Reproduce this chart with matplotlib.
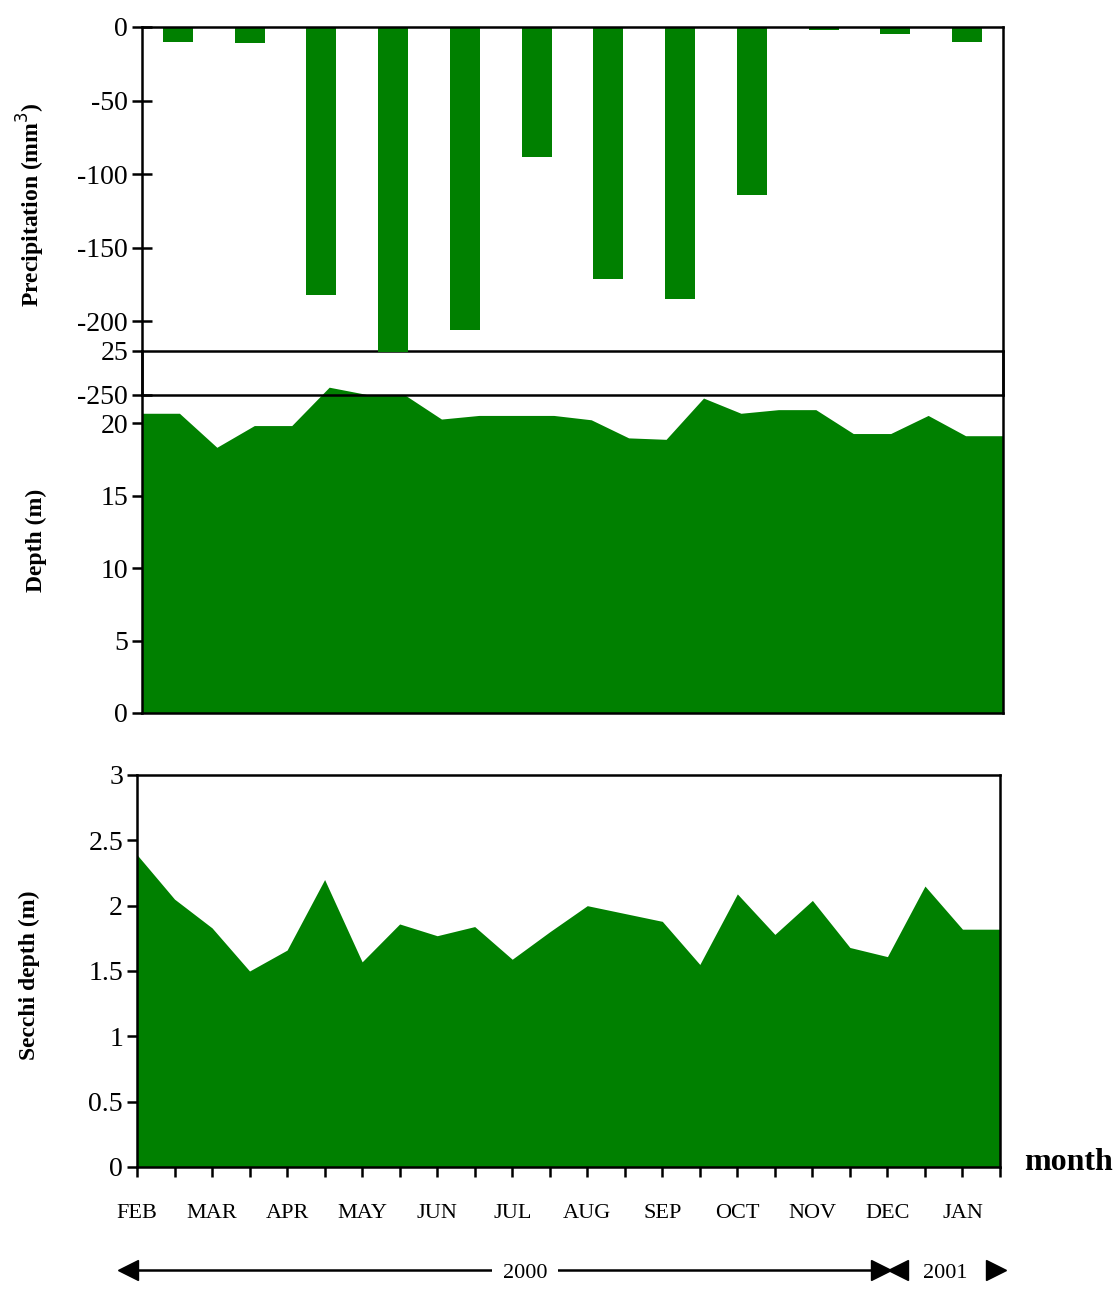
import matplotlib
matplotlib.use("Agg")
import matplotlib.pyplot as plt
import numpy as np
from matplotlib.lines import Line2D
from matplotlib import rc

rc("font", **{"family": "serif", "serif": ["Liberation Serif"], "size": 16})
rc("axes", unicode_minus=False)

# monthly precipitation (mm3), FEB 2000 .. JAN 2001
months = ["FEB", "MAR", "APR", "MAY", "JUN", "JUL", "AUG", "SEP", "OCT", "NOV", "DEC", "JAN"]
precip = [-10, -11, -182, -221, -206, -88, -171, -185, -114, -2, -4.5, -10]

# twice-monthly samples
depth = [20.7, 20.7, 18.35, 19.85, 19.85, 22.5, 22.0, 22.0, 20.3, 20.55, 20.55, 20.55,
         20.25, 19.0, 18.9, 21.75, 20.7, 20.95, 20.95, 19.3, 19.3, 20.55, 19.15, 19.15]
secchi = [2.39, 2.05, 1.83, 1.50, 1.66, 2.20, 1.57, 1.86, 1.77, 1.84, 1.59, 1.80,
          2.00, 1.94, 1.88, 1.55, 2.09, 1.78, 2.04, 1.68, 1.61, 2.15, 1.82, 1.82]

green = "#008000"
W, H = 1116, 1289
fig = plt.figure(figsize=(W / 100, H / 100), dpi=100)


def box(l, t, r, b):
    return [l / W, 1 - b / H, (r - l) / W, (b - t) / H]


def style(ax, lw=1.8):
    for s in ax.spines.values():
        s.set_linewidth(lw)
    ax.tick_params(axis="y", labelsize=20, width=1.8, length=7, pad=3)


# depth panel (drawn first, under precipitation)
ax_d = fig.add_axes(box(142, 351, 1003, 713), zorder=1)
ax_d.patch.set_visible(False)
xs = np.arange(len(depth))
ax_d.fill_between(xs, 0, depth, color=green, linewidth=0)
ax_d.set_xlim(0, len(depth) - 1)
ax_d.set_ylim(0, 25)
ax_d.set_yticks([0, 5, 10, 15, 20, 25])
ax_d.set_xticks([])
style(ax_d)
ax_d.set_ylabel("Depth (m)", fontsize=17, fontweight="bold")
ax_d.yaxis.set_label_coords(-0.110, 0.478)

# precipitation panel
ax_p = fig.add_axes(box(142, 27, 1003, 395), zorder=2)
ax_p.patch.set_visible(False)
xb = np.arange(len(months))
ax_p.bar(xb, precip, width=0.42, color=green, linewidth=0)
ax_p.set_xlim(-0.5, len(months) - 0.5)
ax_p.set_ylim(-250, 0)
ax_p.set_yticks([0, -50, -100, -150, -200, -250])
ax_p.set_xticks([])
style(ax_p)
ax_p.tick_params(axis="y", direction="inout", length=14)
ax_p.set_ylabel("Precipitation (mm$^3$)", fontsize=17, fontweight="bold")
ax_p.yaxis.set_label_coords(-0.110, 0.516)

# secchi panel
ax_s = fig.add_axes(box(137, 775, 1000, 1167))
xs2 = np.arange(len(secchi))
ax_s.fill_between(xs2, 0, secchi, color=green, linewidth=0)
ax_s.set_xlim(0, len(secchi) - 1)
ax_s.set_ylim(0, 3)
ax_s.set_yticks([0, 0.5, 1, 1.5, 2, 2.5, 3])
ax_s.set_yticklabels(["0", "0.5", "1", "1.5", "2", "2.5", "3"])
ax_s.set_xticks(xs2)
ax_s.set_xticklabels([months[i // 2] if i % 2 == 0 else "" for i in xs2], fontsize=16)
style(ax_s)
ax_s.tick_params(axis="x", width=1.8, length=7, pad=20)
ax_s.set_ylabel("Secchi depth (m)", fontsize=17, fontweight="bold")
ax_s.yaxis.set_label_coords(-0.112, 0.49)

fig.text(1024 / W, 1 - 1170 / H, "month", fontsize=23, fontweight="bold", ha="left", va="baseline")

# year arrows
ya = 1 - 1270 / H
fig.add_artist(Line2D([125 / W, 885 / W], [ya, ya], color="black", linewidth=1.8))
fig.add_artist(Line2D([128 / W], [ya], marker="<", markersize=14, color="black", linestyle="none"))
fig.add_artist(Line2D([881 / W], [ya], marker=">", markersize=14, color="black", linestyle="none"))
fig.add_artist(Line2D([898 / W], [ya], marker="<", markersize=14, color="black", linestyle="none"))
fig.add_artist(Line2D([996 / W], [ya], marker=">", markersize=14, color="black", linestyle="none"))
fig.text(525 / W, 1 - 1274 / H, "2000", fontsize=16, ha="center", va="center",
         bbox=dict(facecolor="white", edgecolor="none", pad=8))
fig.text(945 / W, 1 - 1274 / H, "2001", fontsize=16, ha="center", va="center")

fig.savefig("out.png", dpi=100)
